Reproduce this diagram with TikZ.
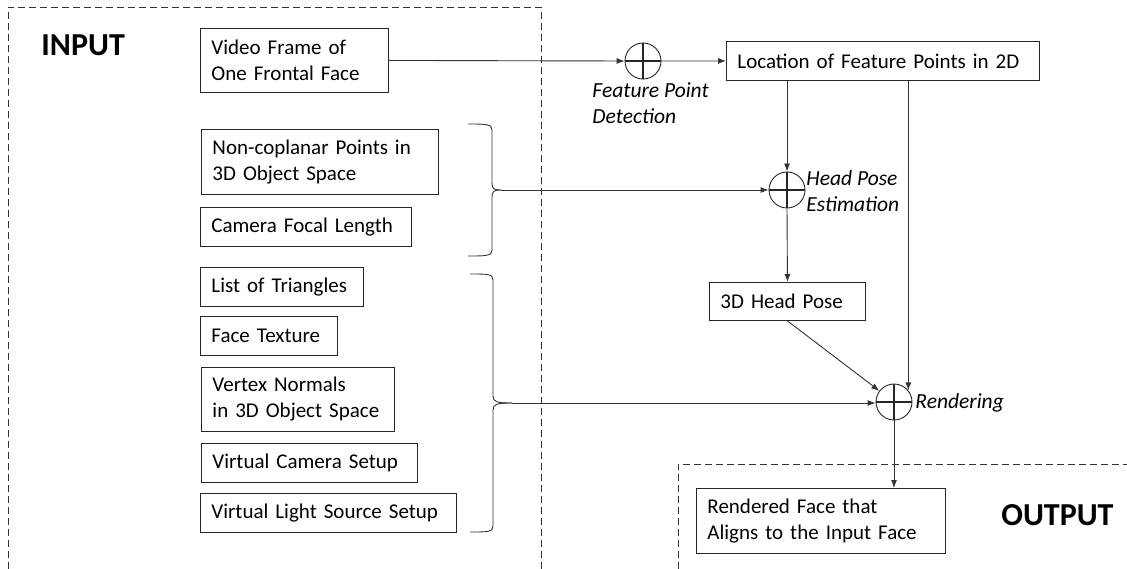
\documentclass[tikz,border=0pt]{standalone}
\usepackage{fontspec}
\setmainfont{Carlito}
\usetikzlibrary{arrows.meta}
\begin{document}
\begin{tikzpicture}[x=1pt,y=-1pt,
  line width=0.9pt,
  bx/.style={draw=black!85, anchor=north west, inner xsep=11pt, inner ysep=0pt,
    align=left, font=\fontsize{21}{26}\selectfont, text=black},
  lbl/.style={anchor=west, align=left, inner sep=0pt, font=\fontsize{21.5}{26}\selectfont\itshape},
  big/.style={anchor=west, inner sep=0pt, font=\fontsize{32}{34}\selectfont\bfseries},
  arr/.style={draw=black!80, -{Latex[length=8pt,width=6pt]}},
  ln/.style={draw=black!80},
  dsh/.style={draw=black!80, dash pattern=on 7pt off 4pt, line width=0.8pt},
  sumnode/.style={circle, draw=black!85, minimum size=36pt, inner sep=0pt,
    path picture={\draw[line width=1.1pt] (path picture bounding box.north) -- (path picture bounding box.south)
      (path picture bounding box.west) -- (path picture bounding box.east);}}
]
\useasboundingbox (0,0) rectangle (1127,569);
\fill[white] (0,0) rectangle (1127,569);

% dashed frames
\draw[dsh] (8,569) -- (8,7) -- (541,7) -- (541,569);
\draw[dsh] (678,569) -- (678,464) -- (1127,464);

\node[big] (inp) at (41,45) {INPUT};
\node[big] (outp) at (1001,515) {OUTPUT};

% input boxes
\node[bx, text width=166pt, minimum height=64pt] (vf) at (200,28) {Video Frame of\\One Frontal Face};
\node[bx, text width=215pt, minimum height=65pt] (nc) at (201,129) {Non-coplanar Points in\\3D Object Space};
\node[bx, text width=189pt, minimum height=39pt] (cf) at (200,207) {Camera Focal Length};
\node[bx, text width=141pt, minimum height=39pt] (lt) at (200,267) {List of Triangles};
\node[bx, text width=115pt, minimum height=39pt] (ft) at (200,316) {Face Texture};
\node[bx, text width=171pt, minimum height=64pt] (vn) at (201,367) {Vertex Normals\\in 3D Object Space};
\node[bx, text width=194pt, minimum height=39pt] (vc) at (201,443) {Virtual Camera Setup};
\node[bx, text width=234pt, minimum height=39pt] (vl) at (200,493) {Virtual Light Source Setup};

% right boxes
\node[bx, text width=291pt, minimum height=39pt] (loc) at (726,41) {Location of Feature Points in 2D};
\node[bx, text width=134pt, minimum height=38pt] (hp) at (709,282) {3D Head Pose};
\node[bx, text width=227pt, minimum height=65pt] (rf) at (696,488) {Rendered Face that\\Aligns to the Input Face};

% sum nodes
\node[sumnode] (c1) at (643,61) {};
\node[sumnode] (c2) at (787,190) {};
\node[sumnode] (c3) at (894,402) {};

\node[lbl] (l1) at (592,103) {Feature Point\\Detection};
\node[lbl] (l2) at (806,191) {Head Pose\\Estimation};
\node[lbl] (l3) at (915,403) {Rendering};

% braces
\coordinate (b1) at (501,190);
\coordinate (b2) at (512,403);
\draw[ln] (468,124) .. controls (486,124) and (492,124) .. (492,130) -- (492,183)
  .. controls (492,189) and (494,190) .. (b1);
\draw[ln] (468,256) .. controls (486,256) and (492,256) .. (492,250) -- (492,197)
  .. controls (492,191) and (494,190) .. (b1);
\draw[ln] (470,274) .. controls (488,274) and (493,274) .. (493,280) -- (493,396)
  .. controls (493,402) and (497,403) .. (b2);
\draw[ln] (470,532) .. controls (488,532) and (493,532) .. (493,526) -- (493,410)
  .. controls (493,404) and (497,403) .. (b2);

% connectors
\draw[arr] (vf.east) -- (c1.west);
\draw[arr] (c1.east) -- (loc.west);
\draw[arr] (loc.south -| c2.north) -- (c2.north);
\draw[arr] (loc.south -| c3.39) -- (c3.39);
\draw[arr] (b1) -- (b1 -| c2.west);
\draw[arr] (c2.south) -- (hp.north);
\draw[arr] (hp.south) -- (c3);
\draw[arr] (b2) -- (b2 -| c3.west);
\draw[arr] (c3.south) -- (c3.south |- rf.north);
\end{tikzpicture}
\end{document}
